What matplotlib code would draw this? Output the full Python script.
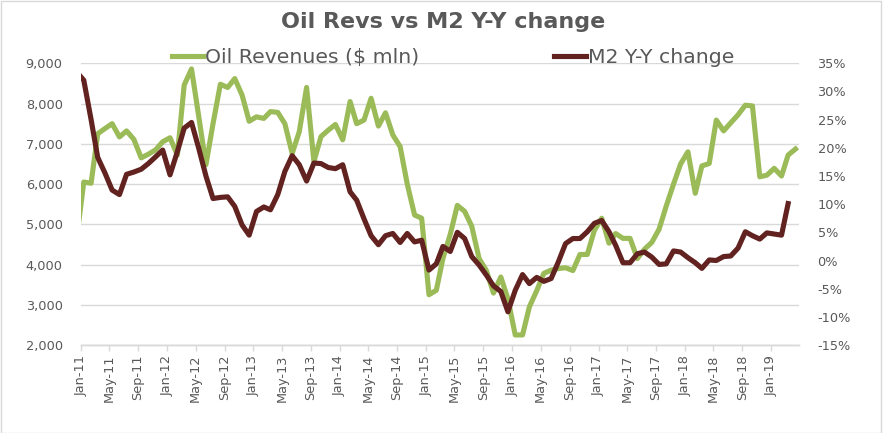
import matplotlib
matplotlib.use("Agg")
import matplotlib.pyplot as plt
import matplotlib.dates as mdates
from matplotlib.lines import Line2D
from matplotlib.patches import Rectangle
from matplotlib.ticker import FuncFormatter, FixedLocator
import pandas as pd

plt.rcParams['font.family'] = ['DejaVu Sans']

# Monthly data, first value is Dec-10 (clipped by the axis, which starts Jan-11)
oil_revenues = [
    4600,
    6050, 6020, 7250, 7380, 7500, 7170, 7320, 7110, 6650, 6740, 6850, 7050,   # 2011
    7150, 6720, 8460, 8860, 7700, 6480, 7500, 8480, 8400, 8620, 8210, 7560,   # 2012
    7670, 7630, 7800, 7780, 7500, 6760, 7300, 8400, 6560, 7180, 7340, 7480,   # 2013
    7100, 8050, 7500, 7590, 8130, 7440, 7770, 7220, 6930, 6000, 5230, 5150,   # 2014
    3250, 3360, 4150, 4750, 5470, 5320, 4950, 4150, 3850, 3290, 3690, 3150,   # 2015
    2250, 2250, 2950, 3350, 3780, 3860, 3900, 3920, 3850, 4250, 4250, 4850,   # 2016
    5150, 4530, 4770, 4650, 4650, 4150, 4380, 4550, 4880, 5450, 6000, 6500,   # 2017
    6800, 5770, 6450, 6510, 7590, 7320, 7520, 7720, 7960, 7940, 6180, 6220,   # 2018
    6390, 6200, 6720, 6870,                                                   # 2019
]
m2_yoy = [
    33.5,
    32.0, 25.0, 18.3, 15.5, 12.5, 11.7, 15.3, 15.7, 16.2, 17.2, 18.4, 19.6,   # 2011
    15.2, 19.3, 23.5, 24.5, 20.0, 15.0, 11.0, 11.2, 11.3, 9.6, 6.3, 4.5,      # 2012
    8.7, 9.5, 9.0, 11.7, 15.8, 18.6, 17.0, 14.1, 17.3, 17.2, 16.5, 16.3,      # 2013
    17.0, 12.2, 10.7, 7.4, 4.4, 2.8, 4.4, 4.8, 3.2, 4.8, 3.3, 3.6,            # 2014
    -1.7, -0.6, 2.5, 1.6, 5.0, 3.9, 0.7, -0.8, -2.6, -4.5, -5.5, -9.1,        # 2015
    -5.3, -2.5, -4.1, -3.0, -3.7, -3.2, -0.3, 3.0, 3.9, 3.9, 5.1, 6.6,        # 2016
    7.1, 5.1, 2.7, -0.4, -0.4, 1.2, 1.5, 0.6, -0.7, -0.6, 1.7, 1.5,           # 2017
    0.5, -0.4, -1.4, 0.1, 0.0, 0.7, 0.8, 2.2, 5.1, 4.4, 3.8, 4.9,             # 2018
    4.7, 4.5, 10.1,                                                           # 2019
]
left_ticks = [2000, 3000, 4000, 5000, 6000, 7000, 8000, 9000]
right_ticks = [-15, -10, -5, 0, 5, 10, 15, 20, 25, 30, 35]
title = "Oil Revs vs M2 Y-Y change"
oil_label = "Oil Revenues ($ mln)"
m2_label = "M2 Y-Y change"

GREEN = "#9BBB59"
MAROON = "#612220"
TXT = "#595959"
GRID = "#D9D9D9"

dates_oil = pd.date_range("2010-12-01", periods=len(oil_revenues), freq="MS") + pd.Timedelta(days=13)
dates_m2 = pd.date_range("2010-12-01", periods=len(m2_yoy), freq="MS") + pd.Timedelta(days=13)
tick_dates = pd.date_range("2011-01-01", "2019-01-01", freq="4MS")

fig = plt.figure(figsize=(8.83, 4.33), dpi=100)
ax = fig.add_axes([0.0914, 0.2032, 0.8140, 0.6506])
ax2 = ax.twinx()

ax.plot(dates_oil, oil_revenues, color=GREEN, lw=3.7, solid_joinstyle='round', zorder=3)
ax2.plot(dates_m2, m2_yoy, color=MAROON, lw=3.7, solid_joinstyle='round', zorder=3)

ax.set_xlim(pd.Timestamp("2011-01-01"), pd.Timestamp("2019-05-01"))
ax.set_ylim(2000, 9000)
ax2.set_ylim(-15, 35)

ax.xaxis.set_major_locator(FixedLocator(mdates.date2num(tick_dates)))
ax.xaxis.set_major_formatter(mdates.DateFormatter("%b-%y"))
ax.set_yticks(left_ticks)
ax.yaxis.set_major_formatter(FuncFormatter(lambda v, p: f"{int(v):,}"))
ax2.set_yticks(right_ticks)
ax2.yaxis.set_major_formatter(FuncFormatter(lambda v, p: f"{int(v)}%"))

ax.grid(axis='y', color=GRID, lw=1.0)
ax.set_axisbelow(True)
for a in (ax, ax2):
    for s in ('top', 'left', 'right'):
        a.spines[s].set_visible(False)
    a.spines['bottom'].set_color(GRID)
    a.spines['bottom'].set_linewidth(1.0)

ax.tick_params(axis='x', direction='out', length=4, width=1, color=GRID,
               labelsize=9.3, labelcolor=TXT, labelrotation=90, pad=3)
ax.tick_params(axis='y', length=0, labelsize=9.3, labelcolor=TXT, pad=13)
ax2.tick_params(axis='y', length=0, labelsize=9.3, labelcolor=TXT, pad=13)
for lbl in ax2.get_yticklabels():
    lbl.set_horizontalalignment('left')

fig.text(0.502, 0.949, title, ha='center', va='center', fontsize=16,
         fontweight='bold', color=TXT)

handles = [Line2D([], [], color=GREEN, lw=3.7), Line2D([], [], color=MAROON, lw=3.7)]
fig.legend(handles, [oil_label, m2_label], ncol=2, loc='center',
           bbox_to_anchor=(0.513, 0.868), frameon=False, fontsize=14.7,
           handlelength=1.55, handletextpad=0.1, columnspacing=6.6,
           labelcolor=TXT, borderpad=0, borderaxespad=0)

fig.patches.append(Rectangle((0.001, 0.001), 0.997, 0.997, transform=fig.transFigure,
                             fill=False, edgecolor=GRID, lw=1.0))

fig.savefig("out.png", dpi=100)
